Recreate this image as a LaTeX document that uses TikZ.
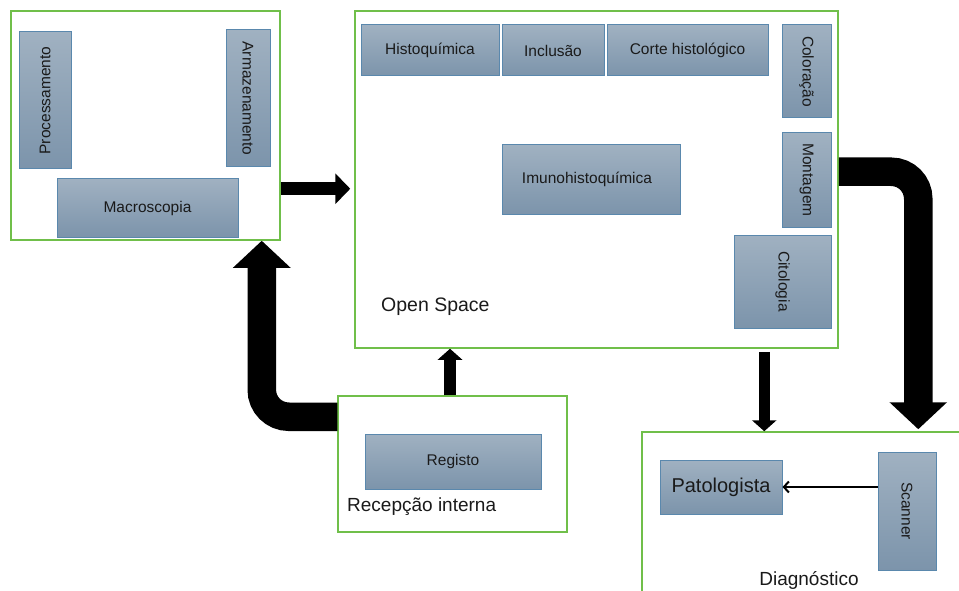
\documentclass[tikz,border=0pt]{standalone}
\usepackage{fontspec}
\setmainfont{Liberation Sans}
\usetikzlibrary{arrows.meta}
\definecolor{areagreen}{HTML}{70BF4A}
\definecolor{unitborder}{HTML}{5A88AD}
\definecolor{unittop}{HTML}{A0B1C1}
\definecolor{unitbot}{HTML}{7C94AB}
\definecolor{txt}{HTML}{1A1A1A}
\tikzset{
  area/.style={draw=areagreen, line width=1.5pt, fill=none, inner sep=0pt},
  unit/.style={draw=unitborder, line width=1pt, top color=unittop, bottom color=unitbot,
    inner sep=0pt, text=txt, font=\fontsize{15.5}{18}\selectfont},
  lbl/.style={inner sep=0pt, text=txt, font=\fontsize{19.5}{22}\selectfont},
  bigflow/.style={line width=28.5pt, rounded corners=27pt, draw=black,
    -{Triangle[width=56pt,length=27pt]}},
  midflow/.style={line width=13pt, draw=black, -{Triangle[width=30pt,length=15pt]}},
  smallflow/.style={line width=11.5pt, draw=black, -{Triangle[width=24pt,length=11pt]}},
  thinflow/.style={line width=2pt, draw=black, -{Straight Barb[length=5pt,width=11pt]}}
}
\begin{document}
\begin{tikzpicture}[x=1pt,y=-1pt]
\useasboundingbox (0,0) rectangle (959,591);
\clip (0,0) rectangle (959,591);
\fill[white] (0,0) rectangle (959,591);

% areas
\node[area, minimum width=269pt, minimum height=229pt] (lab) at (145.5,125.5) {};
\node[area, minimum width=483pt, minimum height=337pt] (open) at (596.5,179.5) {};
\node[area, minimum width=229pt, minimum height=136pt] (recep) at (452.5,464) {};
\node[area, minimum width=330pt, minimum height=170pt] (diag) at (807,517) {};

% left lab units
\node[unit, rotate=90, minimum width=137pt, minimum height=52pt] (proc) at (45,100.5) {Processamento};
\node[unit, rotate=-90, minimum width=137pt, minimum height=44pt] (arm) at (248,98.5) {Armazenamento};
\node[unit, minimum width=181pt, minimum height=58pt] (macro) at (147.5,208) {Macroscopia};

% open space units
\node[unit, minimum width=138pt, minimum height=51pt] (histo) at (430,50.5) {Histoquímica};
\node[unit, minimum width=102pt, minimum height=51pt] (incl) at (553,50.5) {Inclusão};
\node[unit, minimum width=161pt, minimum height=51pt] (corte) at (687.5,50.5) {Corte histológico};
\node[unit, rotate=-90, minimum width=93pt, minimum height=49pt] (color) at (806.5,71.5) {Coloração};
\node[unit, minimum width=178pt, minimum height=69pt] (imuno) at (591,179.5) {\hspace*{-8pt}Imunohistoquímica};
\node[unit, rotate=-90, minimum width=94pt, minimum height=49pt] (mont) at (806.5,180) {Montagem};
\node[unit, rotate=-90, minimum width=93pt, minimum height=97pt] (cito) at (782.5,281.5) {Citologia};
\node[lbl, anchor=west] (openlbl) at (381,307) {Open Space};

% reception
\node[unit, minimum width=176pt, minimum height=55pt] (registo) at (453,461.5) {Registo};
\node[lbl, anchor=west, font=\fontsize{19}{22}\selectfont] (reclbl) at (347,507) {Recepção interna};

% diagnosis
\node[unit, minimum width=122pt, minimum height=54pt, font=\fontsize{20}{23}\selectfont] (pato) at (721,487) {Patologista};
\node[unit, rotate=-90, minimum width=118pt, minimum height=58pt] (scan) at (907,511) {Scanner};
\node[lbl, font=\fontsize{19}{22}\selectfont] (diaglbl) at (809,580) {Diagnóstico};

% connectors
\coordinate (a1) at ([yshift=-178.5pt]lab.north east);
\draw[midflow] (a1) -- ([xshift=-4pt]a1 -| open.west);

\coordinate (a2) at ([yshift=-21.5pt]recep.north west);
\draw[bigflow] (a2) -| ([xshift=-19pt]lab.south east);

\coordinate (a3) at ([xshift=-2.5pt]recep.north);
\draw[smallflow] (a3) -- (a3 |- open.south);

\coordinate (a4) at ([xshift=-74.5pt,yshift=-3pt]open.south east);
\draw[smallflow] (a4) -- (a4 |- diag.north);

\coordinate (a5) at ([yshift=-161.5pt]open.north east);
\draw[bigflow] (a5) -| ([xshift=277pt,yshift=2pt]diag.north west);

\draw[thinflow] (pato.east -| scan.south) -- (pato.east);
\end{tikzpicture}
\end{document}
